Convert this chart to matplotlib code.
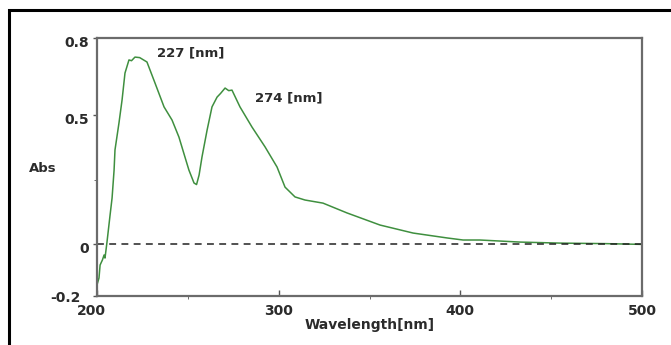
import matplotlib.pyplot as plt
from matplotlib.patches import Rectangle
from matplotlib.transforms import ScaledTranslation

# spectrum
wavelength = [200, 201.1, 201.7, 203.0, 203.9, 204.4, 205.5, 207.2, 208.3, 209.4,
              209.9, 212.1, 213.8, 215.4, 217.6, 219.0, 220.9, 223.5, 227.5, 231.9,
              236.9, 241.3, 245.1, 248.4, 250.6, 253.4, 254.8, 256.2, 257.8, 260.6,
              263.3, 266.1, 268.0, 270.5, 272.5, 274.3, 278.7, 285.3, 292.5, 299.1,
              303.5, 309.0, 314.5, 324.4, 337.6, 355.8, 374.0, 392.7, 401.5, 410.8,
              432.9, 454.9, 480.0, 500]
absorb = [-0.157, -0.130, -0.080, -0.060, -0.041, -0.053, 0.009, 0.114, 0.180, 0.288,
          0.366, 0.471, 0.560, 0.664, 0.715, 0.712, 0.726, 0.724, 0.707, 0.626,
          0.533, 0.482, 0.416, 0.339, 0.288, 0.238, 0.232, 0.269, 0.339, 0.443,
          0.533, 0.571, 0.585, 0.606, 0.596, 0.598, 0.533, 0.455, 0.378, 0.300,
          0.222, 0.184, 0.172, 0.160, 0.122, 0.075, 0.044, 0.025, 0.017, 0.017,
          0.009, 0.005, 0.003, 0.0]

xticks = [200, 300, 400, 500]
yticks = [-0.2, 0, 0.5, 0.8]
ytick_labels = ['-0.2', '0', '0.5', '0.8']
peaks = ['227 [nm]', '274 [nm]']
peak_pos = [(233, 0.742), (287, 0.567)]

txt = '#2b2b2b'
fig = plt.figure(figsize=(6.71, 3.45), dpi=100)
ax = fig.add_axes([97 / 671, 49 / 345, 545 / 671, 258 / 345])

ax.plot(wavelength, absorb, color='#3f8f3f', lw=1.1)
ax.axhline(0, color='#222222', lw=1.1, ls=(0, (4.5, 3.5)))

ax.set_xlim(200, 500)
ax.set_ylim(-0.2, 0.8)
ax.set_xticks(xticks)
ax.set_xticks([250, 350, 450], minor=True)
ax.set_yticks(yticks)
ax.set_yticklabels(ytick_labels)
ax.set_yticks([0.25], minor=True)
ax.tick_params(axis='x', direction='in', length=4, width=1, color='#555555',
               labelsize=10, labelcolor=txt, pad=6)
ax.tick_params(axis='y', direction='out', length=3, width=1, color='#555555',
               labelsize=10, labelcolor=txt, pad=3)
ax.tick_params(which='minor', length=2, color='#555555')

down = ScaledTranslation(0, -0.035, fig.dpi_scale_trans)
for lab in ax.get_xticklabels() + ax.get_yticklabels():
    lab.set_fontweight('bold')
for lab in ax.get_yticklabels()[1:]:
    lab.set_transform(lab.get_transform() + down)

# the first labels sit a bit off in the original
ax.get_xticklabels()[0].set_transform(
    ax.get_xticklabels()[0].get_transform() + ScaledTranslation(-0.06, 0, fig.dpi_scale_trans))
ax.get_yticklabels()[0].set_transform(
    ax.get_yticklabels()[0].get_transform() + ScaledTranslation(-0.08, 0.0, fig.dpi_scale_trans))

for s in ax.spines.values():
    s.set_color('#6b6b6b')
    s.set_linewidth(1.6)

ax.set_xlabel('Wavelength[nm]', fontsize=10, fontweight='bold', color=txt)
ax.xaxis.set_label_coords(0.5, -0.085)
ax.set_ylabel('Abs', fontsize=9.5, fontweight='bold', color=txt, rotation=0)
ax.yaxis.set_label_coords(-0.10, 0.47)

for name, (px, py) in zip(peaks, peak_pos):
    ax.text(px, py, name, fontsize=9.5, fontweight='bold', color=txt, va='center')

# outer frame, cut off on the right and bottom
fig.patches.append(Rectangle((9 / 671, -0.2), 1.2, 1.2 - 10 / 345, transform=fig.transFigure,
                             fill=False, ec='black', lw=2.2))

fig.savefig('out.png', dpi=100)
